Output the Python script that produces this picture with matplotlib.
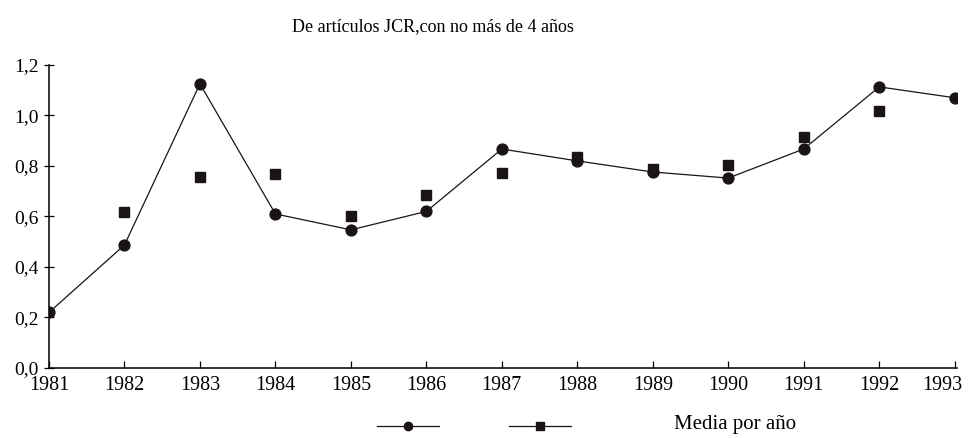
import numpy as np
import matplotlib.pyplot as plt
import matplotlib.transforms as mtransforms
from matplotlib.lines import Line2D

plt.rcParams['font.family'] = ['Liberation Serif', 'DejaVu Serif']

# values (squares hidden under the circles at the ends are left out)
years = [1981, 1982, 1983, 1984, 1985, 1986, 1987, 1988, 1989, 1990, 1991, 1992, 1993]
circ = [0.22, 0.487, 1.125, 0.61, 0.547, 0.62, 0.867, 0.82, 0.776, 0.752, 0.867, 1.113, 1.07]
sq = [np.nan, 0.618, 0.756, 0.768, 0.60, 0.685, 0.772, 0.836, 0.788, 0.804, 0.915, 1.018, np.nan]
yticks = [0.0, 0.2, 0.4, 0.6, 0.8, 1.0, 1.2]
ylabels = ['0,0', '0,2', '0,4', '0,6', '0,8', '1,0', '1,2']

fig = plt.figure(figsize=(9.68, 4.38), dpi=100)
ax = fig.add_axes([0.0506, 0.1598, 0.938, 0.692])

ax.plot(years, sq, ls='none', marker='s', color='#1a1414', ms=6.5)
ax.plot(years, circ, ls='-', lw=0.9, marker='o', color='#1a1414', ms=7.8)

ax.set_xlim(1981, 1993.03)
ax.set_ylim(0, 1.2)
ax.set_xticks(years)
ax.set_xticklabels([str(y) for y in years], fontsize=14.5)
ax.set_yticks(yticks)
ax.set_yticklabels(ylabels, fontsize=14)
ax.tick_params(axis='x', direction='in', length=5, width=0.9, pad=6)
ax.tick_params(axis='y', direction='inout', length=7, width=0.9, pad=4)
ax.spines['top'].set_visible(False)
ax.spines['right'].set_visible(False)
ax.spines['left'].set_linewidth(1.1)
ax.spines['bottom'].set_linewidth(1.1)

# last year label sits a bit to the left so it stays inside the picture
lab = ax.get_xticklabels()[-1]
lab.set_transform(lab.get_transform() + mtransforms.ScaledTranslation(-0.12, 0, fig.dpi_scale_trans))

fig.text(433 / 968, 1 - 27 / 438, 'De artículos JCR,con no más de 4 años',
         ha='center', va='center', fontsize=13)

# legend (entries have no labels in the original)
h1 = Line2D([], [], color='#1a1414', lw=0.9, marker='o', ms=6)
h2 = Line2D([], [], color='#1a1414', lw=0.9, marker='s', ms=5.5)
fig.legend(handles=[h1, h2], labels=['', ''], ncol=2, frameon=False,
           loc='center', bbox_to_anchor=(474 / 968, 1 - 427 / 438),
           fontsize=10, handlelength=4.46, handletextpad=0, columnspacing=5.0)
fig.text(735 / 968, 1 - 424 / 438, 'Media por año', ha='center', va='center', fontsize=15)

plt.savefig('out.png', dpi=100)
